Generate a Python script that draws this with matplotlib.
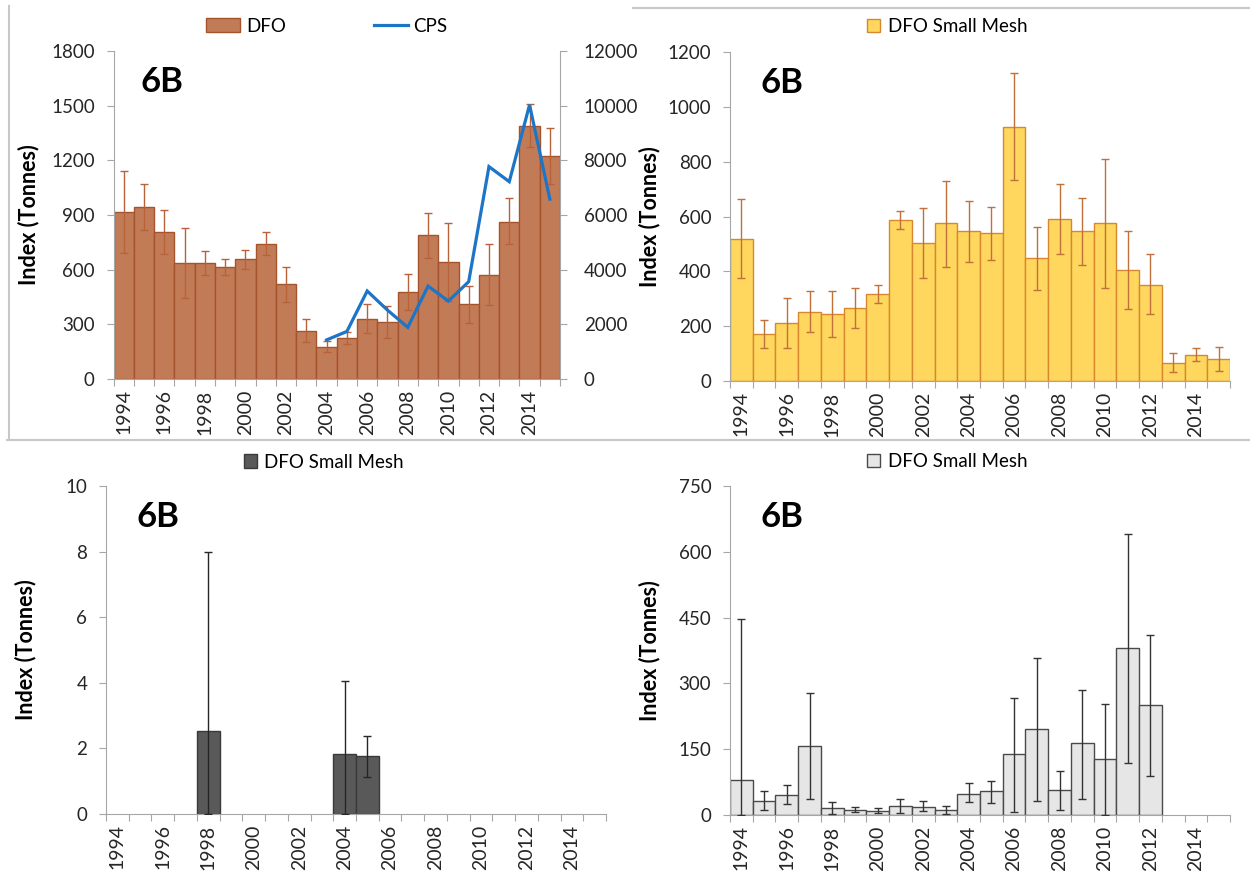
import numpy as np
import matplotlib
matplotlib.use("Agg")
import matplotlib.pyplot as plt
from matplotlib.patches import Patch
from matplotlib.lines import Line2D

plt.rcParams['font.family'] = ['Lato', 'DejaVu Sans']

# ---- data ----
all_years = list(range(1994, 2016))
label_years = [str(y) if y % 2 == 0 else '' for y in all_years]

# top left: DFO index with CI, CPS on second axis
dfo_years = list(range(1994, 2016))
dfo_vals = [915, 942, 805, 635, 635, 615, 660, 740, 520, 263, 177, 223, 329, 315,
            479, 790, 640, 410, 571, 863, 1390, 1226]
dfo_lo = [693, 818, 684, 445, 570, 570, 605, 680, 420, 201, 146, 190, 251, 223,
          379, 666, 428, 306, 406, 739, 1275, 1068]
dfo_hi = [1141, 1070, 929, 830, 705, 660, 710, 805, 615, 328, 208, 260, 412, 402,
          576, 913, 854, 510, 739, 991, 1509, 1379]
cps_years = list(range(2004, 2016))
cps_vals = [1430, 1740, 3220, 2520, 1890, 3400, 2850, 3560, 7770, 7220, 10030, 6580]

# top right: DFO small mesh (yellow)
ym_years = list(range(1994, 2016))
ym_vals = [518, 173, 212, 252, 244, 268, 318, 586, 503, 575, 547, 538, 928, 447,
           591, 547, 575, 404, 350, 67, 94, 79]
ym_lo = [376, 121, 121, 177, 161, 195, 286, 554, 374, 417, 435, 441, 733, 331,
         464, 423, 341, 261, 246, 33, 72, 35]
ym_hi = [664, 222, 301, 329, 328, 340, 350, 620, 632, 730, 658, 635, 1125, 563,
         720, 666, 809, 548, 462, 102, 121, 124]

# bottom left: DFO small mesh (dark)
dk_years = [1998, 2004, 2005]
dk_vals = [2.52, 1.82, 1.77]
dk_lo = [0.0, 0.0, 1.12]
dk_hi = [7.98, 4.06, 2.38]

# bottom right: DFO small mesh (light)
lt_years = list(range(1994, 2013))
lt_vals = [79, 33, 45, 157, 16, 12, 10, 20, 18, 12, 49, 54, 138, 195, 56, 163,
           127, 381, 250]
lt_lo = [0, 11, 24, 36, 3, 6, 5, 5, 8, 3, 30, 27, 7, 33, 12, 37, 0, 119, 90]
lt_hi = [446, 55, 68, 279, 30, 18, 15, 36, 31, 20, 72, 77, 267, 359, 100, 286,
         254, 641, 410]

W, H = 1250, 871
AXIS_GRAY = '#A6A6A6'
TXT = '#262626'


def rect(l, r, t, b):
    return [l / W, 1 - b / H, (r - l) / W, (b - t) / H]


def setup(ax, ymax, ystep, label_x):
    ax.set_xlim(-0.5, len(all_years) - 0.5)
    ax.set_ylim(0, ymax)
    ax.set_yticks(np.arange(0, ymax + ystep / 2, ystep))
    ax.set_xticks(np.arange(-0.5, len(all_years), 1))
    ax.set_xticklabels([])
    ax.set_xticks(np.arange(len(all_years)), labels=label_years, minor=True)
    ax.tick_params(axis='x', which='major', length=5, color=AXIS_GRAY, direction='out')
    ax.tick_params(axis='x', which='minor', length=0, pad=7.5, labelsize=14,
                   labelrotation=90, labelcolor=TXT)
    ax.tick_params(axis='y', length=5, color=AXIS_GRAY, labelsize=13.5, labelcolor=TXT, pad=8.5)
    for s in ['top', 'right']:
        ax.spines[s].set_visible(False)
    for s in ['left', 'bottom']:
        ax.spines[s].set_color(AXIS_GRAY)
    ax.text(0.06, 0.905, '6B', transform=ax.transAxes, fontsize=25,
            fontweight='bold', va='center', ha='left', color='black')
    ax.set_ylabel('Index (Tonnes)', fontsize=15.5, fontweight='bold', color='black')
    ax.yaxis.set_label_coords(label_x, 0.5)


def bars(ax, years, vals, lo, hi, fc, ec, errc):
    x = np.array(years) - all_years[0]
    v = np.array(vals, dtype=float)
    yerr = [v - np.array(lo), np.array(hi) - v]
    ax.bar(x, v, width=1.0, color=fc, edgecolor=ec, linewidth=1.0, zorder=2)
    ax.errorbar(x, v, yerr=yerr, fmt='none', ecolor=errc, elinewidth=1.0,
                capsize=3, capthick=1.0, zorder=3)


fig = plt.figure(figsize=(W / 100, H / 100), dpi=100)

# top left
ax1 = fig.add_axes(rect(113.5, 560, 51, 379))
setup(ax1, 1800, 300, -0.167)
bars(ax1, dfo_years, dfo_vals, dfo_lo, dfo_hi, '#C27B57', '#A4532C', '#B8623A')
ax1b = ax1.twinx()
ax1b.set_ylim(0, 12000)
ax1b.set_yticks(np.arange(0, 12001, 2000))
ax1b.plot(np.array(cps_years) - all_years[0], cps_vals, color='#1C75C7', lw=2.3,
          solid_joinstyle='miter')
for s in ['top', 'left', 'bottom']:
    ax1b.spines[s].set_visible(False)
ax1b.spines['right'].set_color(AXIS_GRAY)
ax1b.tick_params(axis='y', length=5, color=AXIS_GRAY, labelsize=13.5, labelcolor=TXT, pad=12)
h1 = [Patch(facecolor='#C27B57', edgecolor='#A4532C'),
      Line2D([0], [0], color='#1C75C7', lw=2.3)]
ax1b.legend(h1, ['DFO', 'CPS'], loc='center', bbox_to_anchor=(0.478, 1.076), ncol=2,
            frameon=False, fontsize=13.5, handlelength=1.8, handleheight=0.7,
            columnspacing=4.7, handletextpad=0.3)

# top right
ax2 = fig.add_axes(rect(730, 1230, 52, 381))
setup(ax2, 1200, 200, -0.14)
bars(ax2, ym_years, ym_vals, ym_lo, ym_hi, '#FFD75E', '#D9872E', '#C0703A')
ax2.legend([Patch(facecolor='#FFD75E', edgecolor='#D9872E')], ['DFO Small Mesh'],
           loc='center', bbox_to_anchor=(0.434, 1.076), frameon=False, fontsize=13.5,
           handlelength=0.7, handleheight=0.7, handletextpad=0.4)

# bottom left
ax3 = fig.add_axes(rect(106, 606, 486, 814))
setup(ax3, 10, 2, -0.14)
bars(ax3, dk_years, dk_vals, dk_lo, dk_hi, '#595959', '#3A3A3A', '#262626')
ax3.legend([Patch(facecolor='#595959', edgecolor='#3A3A3A')], ['DFO Small Mesh'],
           loc='center', bbox_to_anchor=(0.436, 1.073), frameon=False, fontsize=13.5,
           handlelength=0.7, handleheight=0.7, handletextpad=0.4)

# bottom right
ax4 = fig.add_axes(rect(730, 1230, 486, 815))
setup(ax4, 750, 150, -0.14)
bars(ax4, lt_years, lt_vals, lt_lo, lt_hi, '#E6E6E6', '#4A4A4A', '#333333')
ax4.legend([Patch(facecolor='#E6E6E6', edgecolor='#4A4A4A')], ['DFO Small Mesh'],
           loc='center', bbox_to_anchor=(0.434, 1.073), frameon=False, fontsize=13.5,
           handlelength=0.7, handleheight=0.7, handletextpad=0.4)

# panel borders
border = '#C8C8C8'
fig.add_artist(Line2D([9 / W, 9 / W], [1 - 6 / H, 1 - 438 / H], color=border, lw=1.5))
fig.add_artist(Line2D([7 / W, 1], [1 - 440.5 / H, 1 - 440.5 / H], color=border, lw=1.5))
fig.add_artist(Line2D([633 / W, 1], [1 - 8 / H, 1 - 8 / H], color=border, lw=1.5))

fig.savefig('out.png', dpi=100)
